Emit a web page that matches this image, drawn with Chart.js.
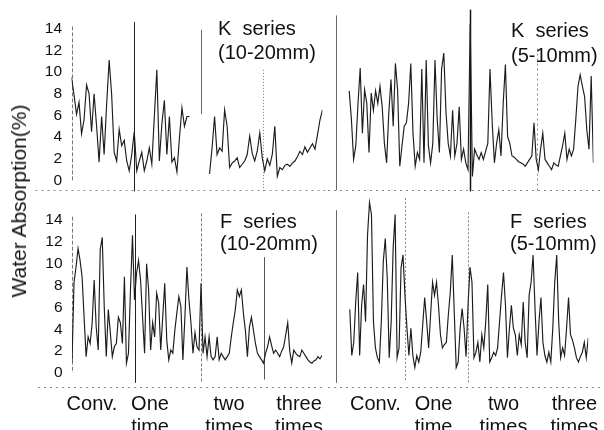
<!DOCTYPE html>
<html><head><meta charset="utf-8">
<script src="https://cdn.jsdelivr.net/npm/chart.js@4.4.1/dist/chart.umd.min.js"></script>
<style>
html,body{margin:0;padding:0;background:#fff;}
#wrap{position:relative;width:604px;height:430px;overflow:hidden;font-family:"Liberation Sans",Arial,sans-serif;color:#111;}
canvas{position:absolute;left:0;top:0;}
.t{position:absolute;font-size:20px;white-space:pre;color:#111;}
#ytitle{position:absolute;left:19px;top:201px;font-size:21px;white-space:nowrap;transform:translate(-50%,-50%) rotate(-90deg);color:#111;}
</style></head><body>
<div id="wrap">
<canvas id="c1" width="604" height="430"></canvas>
<canvas id="c2" width="604" height="430"></canvas>
<canvas id="c3" width="604" height="430"></canvas>
<canvas id="c4" width="604" height="430"></canvas>
<div id="ytitle">Water Absorption(%)</div>
<div class="t" style="left:218px;top:16px;line-height:24px">K  series<br>(10-20mm)</div>
<div class="t" style="left:511px;top:18px;line-height:25px">K  series<br>(5-10mm)</div>
<div class="t" style="left:220px;top:210px;line-height:22px">F  series<br>(10-20mm)</div>
<div class="t" style="left:510px;top:210px;line-height:22px">F  series<br>(5-10mm)</div>
</div>
<script>
// ---- data ----
const yTicks = [0, 2, 4, 6, 8, 10, 12, 14];
const xLabels = [['Conv.'], ['One', 'time'], ['two', 'times'], ['three', 'times']];

const kCoarse = [
  9.5,7.9,6.1,7.2,4.3,5.6,8.8,8.0,4.5,8.0,5.0,1.7,5.9,2.4,7.0,11.1,7.9,2.6,1.8,4.7,3.2,3.7,1.8,0.9,2.4,
  4.5,0.9,1.8,2.6,0.9,1.8,3.0,1.5,5.9,10.2,1.8,5.2,7.4,2.4,5.9,1.7,2.1,0.8,3.9,6.7,5.0,5.9,5.9,null,null,null,null,
  null,null,null,0.6,3.0,5.9,2.4,3.0,2.7,6.5,5.0,1.2,1.6,1.8,2.1,1.2,1.5,1.8,2.4,4.1,2.5,1.8,2.7,4.4,2.1,
  0.9,2.0,1.4,2.4,5.0,0.4,1.2,1.0,1.4,1.5,1.3,1.6,1.8,2.2,2.7,2.4,3.1,2.6,3.0,3.4,2.9,4.2,5.6,6.5
];
const kFine = [
  null,null,null,null,null,null,
  7.8,5.3,1.8,3.0,6.7,9.8,4.1,7.9,6.7,2.4,7.6,6.1,7.8,6.7,8.2,6.4,3.2,1.5,5.9,8.8,4.7,10.2,7.9,1.2,
  3.0,4.7,5.0,6.7,10.2,4.1,1.2,2.4,1.8,9.7,1.5,10.5,3.0,1.5,3.2,10.5,5.3,2.4,9.7,11.1,5.9,3.2,2.1,6.1,
  2.1,3.2,6.4,1.8,2.7,1.5,0.9,
  13.7,0.3,
  2.7,2.2,1.8,2.4,1.8,2.5,3.2,9.7,5.0,1.5,3.2,4.4,2.1,6.7,10.1,3.8,3.2,2.1,2.0,1.8,1.6,1.5,1.4,1.2,1.5,
  1.8,2.1,5.0,1.8,0.9,
  2.7,4.1,1.8,1.5,1.2,0.9,1.5,1.3,1.2,2.1,3.0,4.1,1.8,2.7,2.1,2.7,5.3,8.2,9.2,8.2,7.3,4.4,2.7,9.1,1.5
];
const fCoarse = [
  1.0,8.3,9.7,11.4,10.3,8.8,5.1,1.5,3.3,2.7,4.6,8.5,4.2,2.1,11.3,12.4,6.0,1.5,5.8,3.7,1.5,2.4,2.7,5.1,4.6,
  2.7,8.8,0.9,1.8,7.6,12.6,
  6.7,9.1,10.3,8.5,5.1,1.8,10.0,7.6,2.1,4.6,3.3,7.3,6.4,2.1,5.1,8.2,3.0,1.2,2.1,1.8,3.9,5.5,7.0,6.1,1.2,
  5.1,9.7,6.7,4.6,1.8,3.7,2.4,2.1,
  8.2,1.8,3.3,1.5,3.3,1.5,1.2,1.5,3.3,1.2,1.8,1.5,1.2,1.5,1.8,3.3,4.6,5.8,7.6,7.0,7.6,5.5,3.9,1.5,4.2,
  5.1,3.9,2.7,1.8,1.5,1.2,
  0.9,1.8,2.4,3.3,2.5,1.8,2.1,1.8,1.5,2.0,2.4,3.5,4.6,2.0,0.9,2.1,1.8,1.6,1.5,2.1,1.8,1.5,1.2,1.0,0.9,
  1.1,1.2,1.5,1.3,1.6
];
const fFine = [
  null,null,null,null,null,null,null,
  5.8,1.6,2.8,6.5,9.2,1.6,6.2,8.1,4.7,12.6,15.6,14.5,4.7,2.3,1.4,1.0,4.7,10.2,12.3,8.7,1.4,4.7,11.4,14.5,
  1.4,2.3,9.6,10.8,
  7.1,4.1,1.6,4.1,1.6,0.5,1.6,1.0,1.9,4.4,6.9,4.7,2.3,5.3,8.3,7.1,8.3,6.2,3.5,2.3,2.6,2.8,5.3,7.4,10.8,
  5.6,0.5,1.0,4.1,5.9,4.1,1.5,
  6.2,9.7,8.3,1.4,1.9,2.8,1.0,3.5,2.3,4.7,8.1,1.0,1.4,1.9,1.6,2.3,4.7,7.1,9.2,6.2,1.4,4.1,6.2,4.1,3.5,
  1.6,3.5,2.6,6.5,2.8,1.4,7.1,8.3,10.8,5.9,1.6,4.7,6.9,2.8,1.6,1.0,1.9,1.0,4.1,8.3,10.8,4.7,1.4,2.3,1.6,
  4.1,6.9,3.5,3.0,2.3,1.4,1.0,1.5,1.9,2.8,1.4,3.2
];
const kCoarseBounds = [0, 25, 51.6, 76.4];
const kFineBounds = [0, 61, 91.5];
const fCoarseBounds = [0, 31, 64, 95];
const fFineBounds = [0, 35, 67];
const fCoarseLabelAt = [9.9, 38.7, 77.9, 112.6];
const fFineLabelAt = [20, 49.5, 85, 121];

// ---- drawing ----
const FONT = '"Liberation Sans", Arial, sans-serif';
const sepPlugin = {
  id: 'seps',
  beforeDatasetsDraw(chart, args, o) {
    const ctx = chart.ctx, ca = chart.chartArea, xs = chart.scales.x, ys = chart.scales.y;
    ctx.save();
    const yb = Math.round(ys.getPixelForValue(ys.min)) - 0.5;
    ctx.strokeStyle = '#8a8a8a'; ctx.lineWidth = 1; ctx.setLineDash([2, 4]);
    ctx.beginPath(); ctx.moveTo(ca.left + o.baseL, yb); ctx.lineTo(ca.right + o.baseR, yb); ctx.stroke();
    o.bounds.forEach((b, i) => {
      const st = o.styles[i];
      const x = Math.round(xs.getPixelForValue(b)) + 0.5;
      ctx.strokeStyle = st.color; ctx.lineWidth = st.width || 1; ctx.setLineDash(st.dash || []);
      st.segs.forEach(s => {
        ctx.beginPath();
        ctx.moveTo(x, ys.getPixelForValue(s[0]));
        ctx.lineTo(x, ys.getPixelForValue(s[1]));
        ctx.stroke();
      });
    });
    ctx.restore();
  }
};

function panel(id, values, bounds, p) {
  const showY = p.showY, showX = !!p.labelAt;
  new Chart(document.getElementById(id), {
    type: 'line',
    data: { datasets: [{
      data: values.map((v, i) => ({ x: i, y: v })),
      borderColor: '#1c1c1c', borderWidth: 1.15, pointRadius: 0, tension: 0, spanGaps: false
    }] },
    options: {
      responsive: false, animation: false, events: [],
      layout: { padding: p.pad },
      plugins: {
        legend: { display: false }, tooltip: { enabled: false },
        seps: { bounds: bounds, styles: p.styles, baseL: p.baseL, baseR: p.baseR }
      },
      scales: {
        x: {
          type: 'linear', min: 0, max: values.length - 1, display: showX,
          grid: { display: false, drawTicks: false }, border: { display: false },
          afterFit: s => { s.height = p.xh || 0; },
          afterBuildTicks: s => { if (showX) s.ticks = p.labelAt.map(v => ({ value: v })); },
          ticks: {
            autoSkip: false, maxRotation: 0, padding: 5, color: '#111',
            font: { family: FONT, size: 20, lineHeight: 1.15 },
            callback: (v, i) => xLabels[i]
          }
        },
        y: {
          min: p.ymin, max: p.ymax, display: showY,
          grid: { display: false, drawTicks: false }, border: { display: false },
          afterFit: s => { s.width = p.yw || 0; },
          afterBuildTicks: s => { s.ticks = yTicks.map(v => ({ value: v })); },
          ticks: { padding: 9.5, color: '#111', font: { family: FONT, size: 15.5 }, callback: v => String(v) }
        }
      }
    },
    plugins: [sepPlugin]
  });
}

panel('c1', kCoarse, kCoarseBounds, {
  showY: true, yw: 41.5, ymin: -1, ymax: 14.9,
  pad: { left: 30, right: 281.5, top: 9.7, bottom: 238.6 }, baseL: -36, baseR: 4,
  styles: [
    { color: '#777', dash: [4, 2], segs: [[14.2, 0]] },
    { color: '#222', segs: [[14.6, -1]] },
    { color: '#666', segs: [[13.9, 6.1]] },
    { color: '#777', dash: [1, 2], segs: [[10.2, -1]] }
  ]
});
panel('c2', kFine, kFineBounds, {
  showY: false, ymin: -1, ymax: 14.9,
  pad: { left: 336, right: 10.6, top: 9.7, bottom: 238.6 }, baseL: -8, baseR: 10,
  styles: [
    { color: '#666', segs: [[14.4, -0.9]] },
    { color: '#111', width: 1.5, segs: [[14.9, -1]] },
    { color: '#888', dash: [2, 3], segs: [[11.5, -1]] }
  ]
});
panel('c3', fCoarse, fCoarseBounds, {
  showY: true, yw: 42, ymin: -1.4, ymax: 16, xh: 41.7, labelAt: fCoarseLabelAt,
  pad: { left: 30, right: 282, top: 198.1, bottom: 0 }, baseL: -34, baseR: 4,
  styles: [
    { color: '#777', dash: [4, 2], segs: [[14.3, 0]] },
    { color: '#222', segs: [[14.5, -0.9]] },
    { color: '#777', dash: [3, 2], segs: [[14.6, -0.8]] },
    { color: '#555', segs: [[10.6, -0.6]] }
  ]
});
panel('c4', fFine, fFineBounds, {
  showY: false, ymin: -1.4, ymax: 16, xh: 41.7, labelAt: fFineLabelAt,
  pad: { left: 336, right: 12, top: 198.1, bottom: 0 }, baseL: -8, baseR: 12,
  styles: [
    { color: '#666', segs: [[14.9, -0.9]] },
    { color: '#888', dash: [2, 2], segs: [[16, -0.8]] },
    { color: '#888', dash: [2, 2], segs: [[14.7, -0.9]] }
  ]
});
</script>
</body></html>
